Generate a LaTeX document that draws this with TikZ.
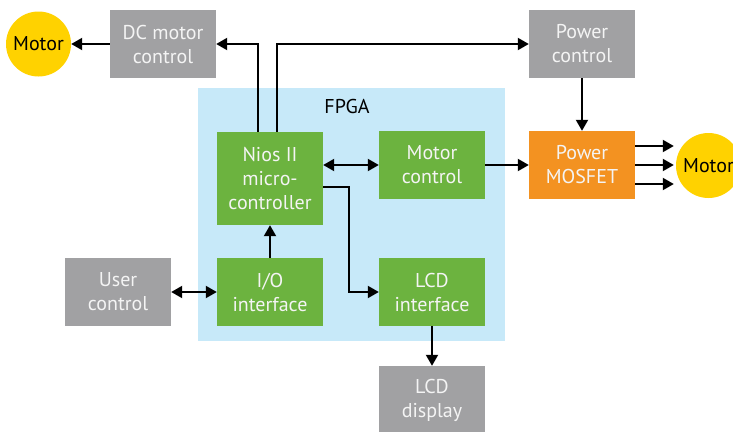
\documentclass[tikz,border=0pt]{standalone}
\usepackage{fontspec}
\setmainfont{PT Sans}
\usetikzlibrary{arrows.meta}
\definecolor{boxgray}{HTML}{A1A1A3}
\definecolor{boxgreen}{HTML}{6CB33F}
\definecolor{boxorange}{HTML}{F39221}
\definecolor{motoryellow}{HTML}{FFD200}
\definecolor{fpgablue}{HTML}{C7E9F9}
\definecolor{boxtext}{HTML}{F4F4F4}
\tikzset{
  blk/.style={rectangle, minimum width=106pt, minimum height=68pt, inner sep=0pt,
    text=boxtext, align=center, font=\fontsize{20}{24}\selectfont},
  graybox/.style={blk, fill=boxgray},
  greenbox/.style={blk, fill=boxgreen},
  orangebox/.style={blk, fill=boxorange},
  motorc/.style={circle, fill=motoryellow, minimum size=65pt, inner sep=0pt,
    text=black, font=\fontsize{20}{24}\selectfont},
  arr/.style={draw=black, line width=2pt, -{Triangle[length=11pt,width=12pt]}},
  darr/.style={draw=black, line width=2pt, {Triangle[length=11pt,width=12pt]}-{Triangle[length=11pt,width=12pt]}},
}
\begin{document}
\begin{tikzpicture}[x=1pt,y=-1pt]
\useasboundingbox (0,0) rectangle (733,431);
\fill[white] (0,0) rectangle (733,431);
% FPGA area
\node[fill=fpgablue, minimum width=307pt, minimum height=253pt, inner sep=0pt] (fpga) at (351.5,214.5) {};
\node[font=\fontsize{20}{24}\selectfont, text=black] (fpgalabel) at (347,106) {FPGA};
% blocks
\node[graybox] (dcm) at (163,44) {DC motor\\control};
\node[graybox] (pwc) at (582,44) {Power\\control};
\node[greenbox, minimum height=93pt] (nios) at (270,178.5) {Nios II\\micro-\\controller};
\node[greenbox] (mc) at (432,165) {Motor\\control};
\node[orangebox] (mos) at (582,165) {Power\\MOSFET};
\node[graybox] (user) at (118,292) {User\\control};
\node[greenbox] (io) at (270,292) {I/O\\interface};
\node[greenbox] (lcdi) at (432,292) {LCD\\interface};
\node[graybox] (lcdd) at (432,400) {LCD\\display};
\node[motorc] (m1) at (38.5,44) {Motor};
\node[motorc] (m2) at (708.5,165.5) {Motor};
% connectors
\draw[arr] (dcm.west) -- (m1.east);
\draw[arr] ([xshift=-12pt]nios.north) |- (dcm.east);
\draw[arr] ([xshift=7pt]nios.north) |- (pwc.west);
\draw[arr] (pwc.south) -- (mos.north);
\draw[darr] (nios.east |- mc.west) -- (mc.west);
\draw[arr] (mc.east) -- (mos.west);
\coordinate (bend) at (349,187);
\draw[arr] ([yshift=-8.5pt]nios.east) -- (bend) |- (lcdi.west);
\draw[arr] ([yshift=19pt]mos.east) -- ([yshift=19pt,xshift=-2pt]mos.east -| m2.west);
\draw[arr] (mos.east) -- ([xshift=-2pt]mos.east -| m2.west);
\draw[arr] ([yshift=-19pt]mos.east) -- ([yshift=-19pt,xshift=-2pt]mos.east -| m2.west);
\draw[darr] (user.east) -- (io.west);
\draw[arr] (io.north) -- (nios.south);
\draw[arr] (lcdi.south) -- (lcdd.north);
\end{tikzpicture}
\end{document}
